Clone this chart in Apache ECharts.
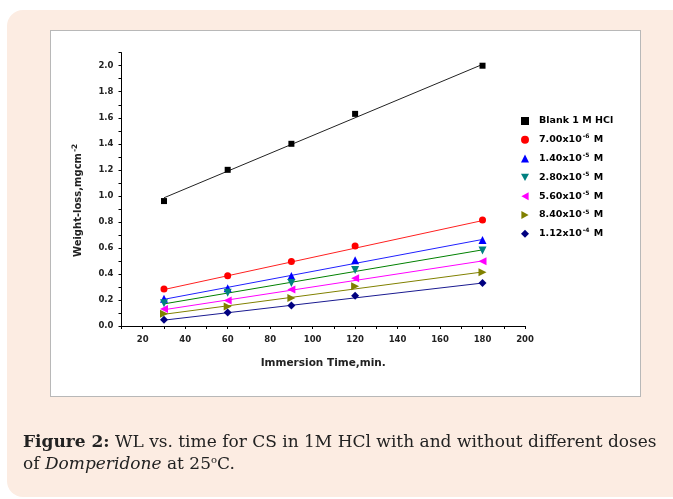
<!DOCTYPE html>
<html>
<head>
<meta charset="utf-8">
<script src="https://cdn.jsdelivr.net/npm/echarts@6/dist/echarts.min.js"></script>
<style>
html, body { margin: 0; padding: 0; background: #fff; }
#page { position: relative; width: 673px; height: 499px; overflow: hidden; }
#panel { position: absolute; left: 7px; top: 10px; width: 680px; height: 487px; background: #fcece2; border-radius: 16px; }
#box { position: absolute; left: 50px; top: 30px; width: 589px; height: 365px; background: #fff; border: 1px solid #b8b8b8; }
#chart { position: absolute; left: 0; top: 0; width: 673px; height: 499px; }
#caption { position: absolute; left: 23px; top: 430px; width: 650px; white-space: nowrap; font-family: "DejaVu Serif", serif; font-size: 17px; line-height: 22px; color: #222; }
#caption sup { font-size: 10px; vertical-align: 6px; line-height: 0; }
</style>
</head>
<body>
<div id="page">
	<div id="panel"></div>
	<div id="box"></div>
	<div id="chart"></div>
	<div id="caption"><b>Figure 2:</b> WL vs. time for CS in 1M HCl with and without different doses<br>of <i>Domperidone</i> at 25<sup>o</sup>C.</div>
</div>
<script>
const times = [30, 60, 90, 120, 180]
const fitX = [30, 180]

const blank = [0.96, 1.20, 1.40, 1.63, 2.00]
const dose1 = [0.285, 0.387, 0.495, 0.615, 0.815]
const dose2 = [0.21, 0.29, 0.385, 0.505, 0.66]
const dose3 = [0.175, 0.255, 0.33, 0.43, 0.58]
const dose4 = [0.13, 0.195, 0.28, 0.367, 0.497]
const dose5 = [0.095, 0.15, 0.215, 0.305, 0.413]
const dose6 = [0.048, 0.103, 0.157, 0.233, 0.33]

// fitted line ends at 30 and 180 min
const blankFit = [0.985, 2.01]
const dose1Fit = [0.28, 0.81]
const dose2Fit = [0.205, 0.665]
const dose3Fit = [0.17, 0.585]
const dose4Fit = [0.125, 0.50]
const dose5Fit = [0.09, 0.415]
const dose6Fit = [0.045, 0.33]

const legendNames = ["Blank 1 M HCl", "7.00x10-6 M", "1.40x10-5 M", "2.80x10-5 M", "5.60x10-5 M", "8.40x10-5 M", "1.12x10-4 M"]
const legendSups = [null, "-6", "-5", "-5", "-5", "-5", "-4"]

const triDown = "path://M0,0L10,0L5,9Z"
const triLeft = "path://M9,0L0,5L9,10Z"
const triRight = "path://M0,0L9,5L0,10Z"

const groups = [
	{ values: blank, fit: blankFit, mark: "#000000", line: "#222222", symbol: "rect", size: 6, rotate: 0, icon: "rect" },
	{ values: dose1, fit: dose1Fit, mark: "#ff0000", line: "#ff2020", symbol: "circle", size: 7, rotate: 0, icon: "circle" },
	{ values: dose2, fit: dose2Fit, mark: "#0000ff", line: "#2020ff", symbol: "triangle", size: 8, rotate: 0, icon: "triangle" },
	{ values: dose3, fit: dose3Fit, mark: "#008080", line: "#008000", symbol: "triangle", size: 8, rotate: 180, icon: triDown },
	{ values: dose4, fit: dose4Fit, mark: "#ff00ff", line: "#ff00ff", symbol: "triangle", size: 8, rotate: 90, icon: triLeft },
	{ values: dose5, fit: dose5Fit, mark: "#808000", line: "#808000", symbol: "triangle", size: 8, rotate: -90, icon: triRight },
	{ values: dose6, fit: dose6Fit, mark: "#000080", line: "#1a1a90", symbol: "diamond", size: 8, rotate: 0, icon: "diamond" },
]

const series = []
groups.forEach((g, i) => {
	series.push({
		name: "fit" + i,
		type: "line",
		data: fitX.map((x, k) => [x, g.fit[k]]),
		symbol: "none",
		silent: true,
		lineStyle: { color: g.line, width: 1 },
		z: 2,
	})
})
groups.forEach((g, i) => {
	series.push({
		name: legendNames[i],
		type: "scatter",
		data: times.map((t, k) => [t, g.values[k]]),
		symbol: g.symbol,
		symbolSize: g.size,
		symbolRotate: g.rotate,
		itemStyle: { color: g.mark, opacity: 1 },
		z: 3,
	})
})

const boldFont = "DejaVu Sans, Arial"
const axisFont = { fontFamily: boldFont, fontWeight: "bold", fontSize: 8.5, color: "#222" }

const chart = echarts.init(document.getElementById("chart"))
chart.setOption({
	animation: false,
	backgroundColor: "transparent",
	grid: { left: 121.5, right: 148, top: 52.7, bottom: 173 },
	legend: {
		orient: "vertical",
		left: 516,
		top: 110,
		itemWidth: 8,
		itemHeight: 8,
		itemGap: 6.8,
		data: legendNames.map((n, i) => ({ name: n, icon: groups[i].icon })),
		formatter: (name) => {
			const i = legendNames.indexOf(name)
			if (!legendSups[i]) return "{g|}{a|" + name + "}"
			const base = name.replace(legendSups[i] + " M", "")
			return "{g|}{a|" + base + "}{s|" + legendSups[i] + "}{a| M}"
		},
		textStyle: {
			rich: {
				g: { width: 5, lineHeight: 12 },
				a: { fontFamily: boldFont, fontWeight: "bold", fontSize: 9.5, color: "#000", lineHeight: 12 },
				s: { fontFamily: boldFont, fontWeight: "bold", fontSize: 6, color: "#000", lineHeight: 6, verticalAlign: "top", padding: [0, 1, 0, 1] },
			},
		},
	},
	xAxis: {
		type: "value",
		min: 10,
		max: 200,
		interval: 10,
		name: "Immersion Time,min.",
		nameLocation: "middle",
		nameGap: 32,
		nameTextStyle: { fontFamily: boldFont, fontWeight: "bold", fontSize: 10.5, color: "#222" },
		axisLine: { lineStyle: { color: "#000", width: 1 } },
		axisTick: { length: 3, lineStyle: { color: "#000" } },
		axisLabel: { ...axisFont, margin: 9, formatter: (v) => (v % 20 === 0 ? String(v) : "") },
		splitLine: { show: false },
	},
	yAxis: {
		type: "value",
		min: 0,
		max: 2.1,
		interval: 0.1,
		name: "{a|Weight-loss,mgcm}{s|-2}",
		nameLocation: "middle",
		nameGap: 37,
		nameRotate: 90,
		nameTextStyle: {
			padding: [0, 22, 0, 0],
			rich: {
				a: { fontFamily: boldFont, fontWeight: "bold", fontSize: 10, color: "#222", lineHeight: 13 },
				s: { fontFamily: boldFont, fontWeight: "bold", fontSize: 7.5, color: "#222", lineHeight: 7, verticalAlign: "top", padding: [0, 0, 0, 1] },
			},
		},
		axisLine: { show: true, lineStyle: { color: "#000", width: 1 } },
		axisTick: { show: true, length: 3, lineStyle: { color: "#000" } },
		axisLabel: { ...axisFont, margin: 8, formatter: (v) => (Math.round(v * 10) % 2 === 0 ? v.toFixed(1) : "") },
		splitLine: { show: false },
	},
	series: series,
})
</script>
</body>
</html>
